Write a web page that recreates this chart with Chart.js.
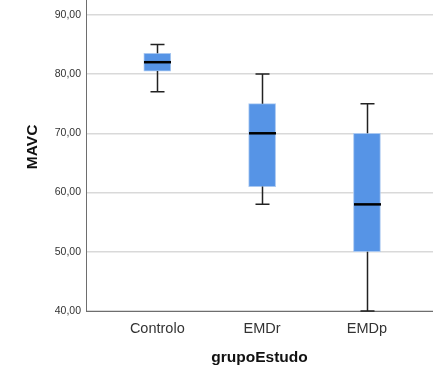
<!DOCTYPE html>
<html>
<head>
<meta charset="utf-8">
<script src="https://cdn.jsdelivr.net/npm/chart.js@4"></script>
<style>
  html, body { margin: 0; padding: 0; background: #fff; }
  #wrap { width: 433px; height: 368px; position: relative; }
</style>
</head>
<body>
<div id="wrap"><canvas id="boxChart"></canvas></div>
<script>
// Boxplot values
const categories = ['Controlo', 'EMDr', 'EMDp'];
const minVals = [77, 58, 40];
const q1Vals = [80.5, 61, 50];
const medianVals = [82, 70, 58];
const q3Vals = [83.5, 75, 70];
const maxVals = [85, 80, 75];
const yTicks = [40, 50, 60, 70, 80, 90];
const yTickLabels = ['40,00', '50,00', '60,00', '70,00', '80,00', '90,00'];

// whiskers + median lines, drawn through the chart scales
const boxExtras = {
    id: 'boxExtras',
    afterDatasetsDraw(chart) {
        const ctx = chart.ctx;
        const x = chart.scales.x;
        const y = chart.scales.y;
        const meta = chart.getDatasetMeta(0);
        ctx.save();
        categories.forEach(function(cat, i) {
            const cx = Math.round(x.getPixelForValue(i + 1)) + 0.5;
            const half = meta.data[i].width / 2;
            const yMin = y.getPixelForValue(minVals[i]);
            const yQ1 = y.getPixelForValue(q1Vals[i]);
            const yQ3 = y.getPixelForValue(q3Vals[i]);
            const yMax = y.getPixelForValue(maxVals[i]);
            const yMed = y.getPixelForValue(medianVals[i]);

            ctx.strokeStyle = '#222';
            ctx.lineWidth = 1.5;
            ctx.beginPath();
            ctx.moveTo(cx, yQ3); ctx.lineTo(cx, yMax);
            ctx.moveTo(cx, yQ1); ctx.lineTo(cx, yMin);
            ctx.moveTo(cx - 7, yMax); ctx.lineTo(cx + 7, yMax);
            ctx.moveTo(cx - 7, yMin); ctx.lineTo(cx + 7, yMin);
            ctx.stroke();

            ctx.strokeStyle = '#000';
            ctx.lineWidth = 2.5;
            ctx.beginPath();
            ctx.moveTo(cx - half, yMed); ctx.lineTo(cx + half, yMed);
            ctx.stroke();
        });
        ctx.restore();
    }
};

const ctx = document.getElementById('boxChart');
new Chart(ctx.getContext('2d'), {
    type: 'bar',
    data: {
        datasets: [{
            data: categories.map(function(c, i) { return { x: i + 1, y: [q1Vals[i], q3Vals[i]] }; }),
            backgroundColor: '#5694e6',
            borderColor: '#a9c8f1',
            borderWidth: 1,
            borderSkipped: false,
            barThickness: 27,
        }]
    },
    options: {
        responsive: true,
        maintainAspectRatio: false,
        animation: false,
        layout: { padding: 0 },
        plugins: {
            legend: { display: false },
            tooltip: { enabled: false }
        },
        scales: {
            x: {
                type: 'linear',
                offset: false,
                min: 0.32,
                max: 3.63,
                afterBuildTicks: function(scale) {
                    scale.ticks = categories.map(function(c, i) { return { value: i + 1 }; });
                },
                afterFit: function(scale) {
                    scale.height = 57;
                    scale.paddingLeft = 0;
                    scale.paddingRight = 0;
                },
                ticks: {
                    color: '#333',
                    padding: 1,
                    maxRotation: 0,
                    font: { family: 'Liberation Sans', size: 14.5 },
                    callback: function(v) { return categories[v - 1]; }
                },
                grid: { display: false, offset: false },
                border: { display: true, color: '#6e6e6e', width: 1 },
                title: {
                    display: true,
                    text: 'grupoEstudo',
                    color: '#111',
                    font: { family: 'Liberation Sans', size: 15.5, weight: 'bold' },
                    padding: { top: 0, bottom: 1 }
                }
            },
            y: {
                min: 40,
                max: 92.5,
                afterBuildTicks: function(scale) {
                    scale.ticks = yTicks.map(function(v) { return { value: v }; });
                },
                afterFit: function(scale) {
                    scale.width = 86;
                    scale.paddingTop = 0;
                    scale.paddingBottom = 0;
                },
                ticks: {
                    color: '#333',
                    padding: 5,
                    font: { family: 'Liberation Sans', size: 10.5 },
                    callback: function(v) { return yTickLabels[yTicks.indexOf(v)]; }
                },
                grid: { color: '#d9d9d9', lineWidth: 1.5, drawTicks: false },
                border: { display: true, color: '#6e6e6e', width: 1 },
                title: {
                    display: true,
                    // leading spaces nudge the rotated title up a little, like the original
                    text: '    MAVC',
                    color: '#111',
                    font: { family: 'Liberation Sans', size: 15.5, weight: 'bold' },
                    padding: { top: 23, bottom: 0 }
                }
            }
        }
    },
    plugins: [boxExtras]
});
</script>
</body>
</html>
